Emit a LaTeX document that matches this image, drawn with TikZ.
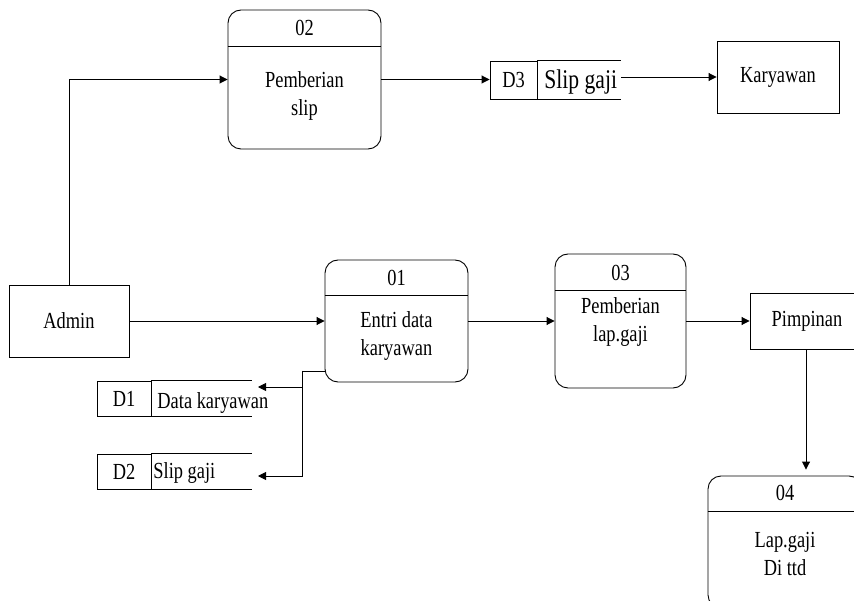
\documentclass[tikz,border=0pt]{standalone}
\usepackage{fontspec}
\setmainfont{Liberation Serif}[FakeStretch=0.8]
\usetikzlibrary{arrows.meta}

\begin{document}
\begin{tikzpicture}[x=1pt, y=-1pt, line width=0.9pt,
  every node/.style={font=\fontsize{23}{28}\selectfont},
  entity/.style={draw, rectangle, inner sep=0pt},
  proc/.style={draw, rectangle, rounded corners=13pt, inner sep=0pt},
  storeid/.style={draw, rectangle, inner sep=0pt},
  flow/.style={-{Triangle[length=8pt, width=8pt]}}]
  \clip (0,0) rectangle (854,601); % page size

  % External entities
  \node[entity, minimum width=120pt, minimum height=72pt] (admin) at (69,321) {Admin};
  \node[entity, minimum width=122pt, minimum height=72pt] (kary) at (778,77) {Karyawan};
  \node[entity, minimum width=114pt, minimum height=56pt] (pimp) at (807,321) {Pimpinan};

  % Processes
  \node[proc, minimum width=153pt, minimum height=139pt] (p02) at (304.5,79.5) {};
  \draw ([yshift=-37pt]p02.north west) -- ([yshift=-37pt]p02.north east); % divider
  \node (n02) at ([yshift=-18pt]p02.north) {02};
  \node[align=center] (t02) at ([yshift=-16pt]p02.center) {Pemberian\\slip};

  \node[proc, minimum width=143pt, minimum height=122pt] (p01) at (396.5,321) {};
  \draw ([yshift=-36pt]p01.north west) -- ([yshift=-36pt]p01.north east); % divider
  \node (n01) at ([yshift=-18pt]p01.north) {01};
  \node[align=center] (t01) at ([yshift=-15pt]p01.center) {Entri data\\karyawan};

  \node[proc, minimum width=131pt, minimum height=134pt] (p03) at (620.5,321) {};
  \draw ([yshift=-37pt]p03.north west) -- ([yshift=-37pt]p03.north east); % divider
  \node (n03) at ([yshift=-19pt]p03.north) {03};
  \node[align=center] (t03) at ([yshift=-1pt]p03.center) {Pemberian\\lap.gaji};

  \node[proc, minimum width=154pt, minimum height=132pt] (p04) at (785,542) {};
  \draw ([yshift=-36pt]p04.north west) -- ([yshift=-36pt]p04.north east); % divider
  \node (n04) at ([yshift=-17pt]p04.north) {04};
  \node[align=center] (t04) at ([yshift=-12pt]p04.center) {Lap.gaji\\Di ttd};

  % Data stores
  \node[storeid, minimum width=54pt, minimum height=35pt] (d1) at (124,398.5) {D1};
  \draw (d1.north east) -- ++(101,0) (d1.south east) -- ++(101,0); % open store
  \node[anchor=west, inner sep=0pt] (d1name) at (157,403) {Data karyawan};

  \node[storeid, minimum width=54pt, minimum height=35pt] (d2) at (124,471.5) {D2};
  \draw (d2.north east) -- ++(101,0) (d2.south east) -- ++(101,0); % open store
  \node[anchor=west, inner sep=0pt] (d2name) at (153,473.5) {Slip gaji};

  \node[storeid, minimum width=47pt, minimum height=38pt] (d3) at (513.5,80) {D3};
  \draw (d3.north east) -- ++(84,0) (d3.south east) -- ++(84,0); % open store
  \node[anchor=west, inner sep=0pt, font=\fontsize{27}{32}\selectfont] (d3name) at (544,82) {Slip gaji};

  % Flows
  \coordinate (d3r) at ([xshift=84pt]d3.east);
  \coordinate (split) at (302,371);
  \coordinate (d1in) at (258,387);
  \coordinate (d2in) at (258,476);
  \draw[flow] (admin.north) |- (p02.west);
  \draw[flow] (p02.east) -- (p02.east -| d3.west);
  \draw[flow] (d3r |- kary.west) -- (kary.west);
  \draw[flow] (admin.east) -- (p01.west);
  \draw[flow] (p01.east) -- (p03.west);
  \draw[flow] (p03.east) -- (pimp.west);
  \draw[flow, shorten >=6pt] ([xshift=-1pt]pimp.south) -- ([xshift=-1pt]pimp.south |- p04.north);
  \draw ([yshift=-50pt]p01.west) -- (split);
  \draw[flow] (split) |- (d1in);
  \draw[flow] (split) |- (d2in);
\end{tikzpicture}
\end{document}
